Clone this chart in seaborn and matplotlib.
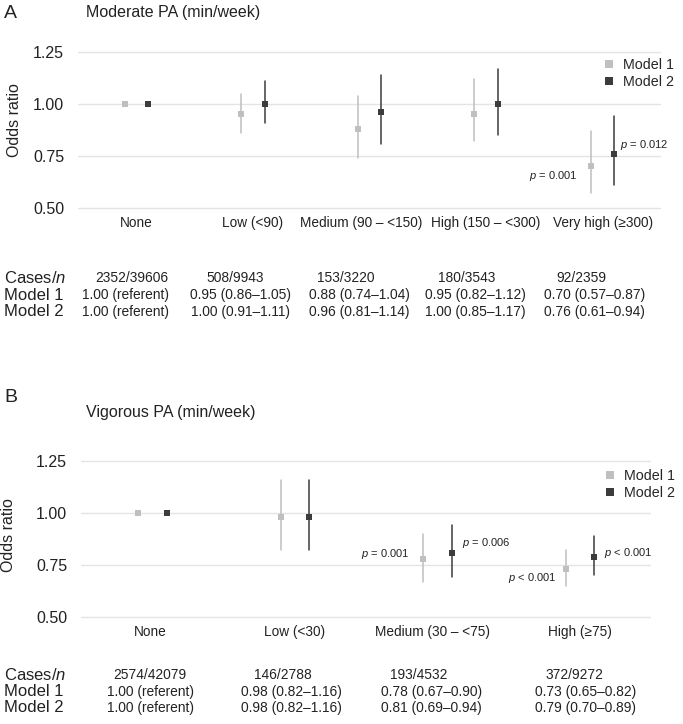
import matplotlib
matplotlib.use("Agg")
import matplotlib.pyplot as plt
import matplotlib.transforms as mtransforms
from matplotlib.lines import Line2D
import numpy as np
import pandas as pd
import seaborn as sns

sns.set_theme(style="white")
plt.rcParams["font.family"] = ["Liberation Sans", "DejaVu Sans"]
plt.rcParams["mathtext.fontset"] = "custom"
plt.rcParams["mathtext.rm"] = "Liberation Sans"
plt.rcParams["mathtext.it"] = "Liberation Sans:italic"

# ── Dados ───────────────────────────────────────────────────
MODELS = ["Model 1", "Model 2"]
COLORS = {"Model 1": "#bfbfbf", "Model 2": "#3c3c3c"}

# Painel A - atividade moderada
cat_a = ["None", "Low (<90)", "Medium (90 – <150)", "High (150 – <300)", "Very high (≥300)"]
cases_a = ["2352/39606", "508/9943", "153/3220", "180/3543", "92/2359"]
m1_or_a = [1.00, 0.95, 0.88, 0.95, 0.70]
m1_lo_a = [1.00, 0.86, 0.74, 0.82, 0.57]
m1_hi_a = [1.00, 1.05, 1.04, 1.12, 0.87]
m2_or_a = [1.00, 1.00, 0.96, 1.00, 0.76]
m2_lo_a = [1.00, 0.91, 0.81, 0.85, 0.61]
m2_hi_a = [1.00, 1.11, 1.14, 1.17, 0.94]
pvals_a = [(4, "Model 1", "$p$ = 0.001"), (4, "Model 2", "$p$ = 0.012")]

# Painel B - atividade vigorosa
cat_b = ["None", "Low (<30)", "Medium (30 – <75)", "High (≥75)"]
cases_b = ["2574/42079", "146/2788", "193/4532", "372/9272"]
m1_or_b = [1.00, 0.98, 0.78, 0.73]
m1_lo_b = [1.00, 0.82, 0.67, 0.65]
m1_hi_b = [1.00, 1.16, 0.90, 0.82]
m2_or_b = [1.00, 0.98, 0.81, 0.79]
m2_lo_b = [1.00, 0.82, 0.69, 0.70]
m2_hi_b = [1.00, 1.16, 0.94, 0.89]
pvals_b = [(2, "Model 1", "$p$ = 0.001"), (2, "Model 2", "$p$ = 0.006"),
           (3, "Model 1", "$p$ < 0.001"), (3, "Model 2", "$p$ < 0.001")]

# offsets (pixels) dos rótulos de p em relação ao ponto
P_OFFS_A = [(-13, -10), (6, 9)]
P_OFFS_B = [(-13, 5), (11, 10), (-9, -9), (10, 4)]

# deslocamento horizontal das colunas da tabela (em unidades de categoria)
CASE_DX_A = [-0.04, -0.15, -0.20, -0.17, -0.18]
MOD_DX_A = [-0.09, -0.11, -0.09, -0.09, -0.07]
CASE_DX_B = [-0.02, -0.08, -0.13, -0.04]
MOD_DX_B = [-0.01, -0.02, -0.04, 0.04]
# deslocamento (px) dos rótulos do eixo x
XLAB_DX_A = [0, 0, -8, 0, 0]
XLAB_DX_B = [-2, 0, -5, 0]


def fmt_ci(o, lo, hi, first):
    if first:
        return "1.00 (referent)"
    return f"{o:.2f} ({lo:.2f}–{hi:.2f})"


def long_df(cats, m1, m2):
    # 3 linhas por ponto: lo, OR, hi -> mediana = OR, min/max = IC
    rows = []
    for model, (o, lo, hi) in zip(MODELS, [m1, m2]):
        for c, a, b, d in zip(cats, o, lo, hi):
            for v in (a, b, d):
                rows.append({"cat": c, "model": model, "OR": v})
    return pd.DataFrame(rows)


fig = plt.figure(figsize=(6.83, 7.24), dpi=100)
W, H = 683, 724


def panel(box, cats, cases, m1, m2, pvals, poffs, letter, title, letter_y, title_y,
          table_y, leg_xy, ylab_xy, case_dx, mod_dx, xlab_dx):
    ax = fig.add_axes(box)
    df = long_df(cats, m1, m2)
    sns.pointplot(data=df, x="cat", y="OR", hue="model", order=cats, hue_order=MODELS,
                  palette=COLORS, estimator="median",
                  errorbar=lambda v: (v.min(), v.max()),
                  dodge=0.2, markers="s", linestyle="none", markersize=5,
                  markeredgewidth=0, err_kws={"linewidth": 1.1}, legend=False, ax=ax)
    ax.set_xlim(-0.5, len(cats) - 0.5)
    ax.set_ylim(0.49, 1.26)
    ax.set_yticks([0.50, 0.75, 1.00, 1.25])
    ax.set_yticklabels(["0.50", "0.75", "1.00", "1.25"])
    ax.yaxis.grid(True, color="#e4e4e4", linewidth=1)
    ax.set_axisbelow(True)
    for s in ax.spines.values():
        s.set_visible(False)
    ax.tick_params(axis="x", length=0, pad=4.5, labelsize=9.8, colors="#222222")
    ax.tick_params(axis="y", length=0, pad=10, labelsize=11.5, colors="#222222")
    for lbl, dx in zip(ax.get_xticklabels(), xlab_dx):
        lbl.set_transform(lbl.get_transform() +
                          mtransforms.ScaledTranslation(dx / 100, 0, fig.dpi_scale_trans))
    ax.set_xlabel("")
    ax.set_ylabel("Odds ratio", fontsize=11.5, color="#222222")
    ax.yaxis.set_label_coords(*ylab_xy)

    # rótulos de p
    for (ci, model, lab), (dx, dy) in zip(pvals, poffs):
        o = (m1 if model == "Model 1" else m2)[0][ci]
        xo = ci + (-0.1 if model == "Model 1" else 0.1)
        ax.annotate(lab, (xo, o), xytext=(dx * 0.72, dy * 0.72), textcoords="offset points",
                    ha="right" if dx < 0 else "left", va="center", fontsize=8, color="#222222")

    # letra e título
    fig.text(4 / W, 1 - letter_y / H, letter, fontsize=14, va="center", ha="left", color="#222222")
    fig.text(86 / W, 1 - title_y / H, title, fontsize=11.5, va="center", ha="left", color="#222222")

    # legenda
    handles = [Line2D([], [], marker="s", linestyle="none", color=COLORS[m],
                      markersize=6, markeredgewidth=0) for m in MODELS]
    fig.legend(handles, MODELS, loc="center left", bbox_to_anchor=leg_xy,
               bbox_transform=fig.transFigure, frameon=False, fontsize=10.3,
               handlelength=1.0, handletextpad=0.45, labelspacing=0.25,
               borderpad=0, borderaxespad=0)

    # tabela
    tr = mtransforms.blended_transform_factory(ax.transData, fig.transFigure)
    rows_lab = ["Cases/$n$", "Model 1", "Model 2"]
    for lab, yy in zip(rows_lab, table_y):
        fig.text(4 / W, 1 - yy / H, lab, fontsize=12, va="center", ha="left", color="#222222")
    for i in range(len(cats)):
        ax.text(i + case_dx[i], 1 - table_y[0] / H, cases[i], transform=tr, fontsize=9.9,
                ha="center", va="center", color="#222222")
        ax.text(i + mod_dx[i], 1 - table_y[1] / H, fmt_ci(m1[0][i], m1[1][i], m1[2][i], i == 0),
                transform=tr, fontsize=9.9, ha="center", va="center", color="#222222")
        ax.text(i + mod_dx[i], 1 - table_y[2] / H, fmt_ci(m2[0][i], m2[1][i], m2[2][i], i == 0),
                transform=tr, fontsize=9.9, ha="center", va="center", color="#222222")
    return ax


panel([78 / W, 1 - 210.1 / H, 583 / W, 160.2 / H], cat_a, cases_a,
      (m1_or_a, m1_lo_a, m1_hi_a), (m2_or_a, m2_lo_a, m2_hi_a), pvals_a, P_OFFS_A,
      "A", "Moderate PA (min/week)", 13, 13, [278, 295, 312],
      (602 / W, 1 - 73.5 / H), (-0.096, 0.56), CASE_DX_A, MOD_DX_A, XLAB_DX_A)

panel([81 / W, 1 - 619.1 / H, 570 / W, 160.2 / H], cat_b, cases_b,
      (m1_or_b, m1_lo_b, m1_hi_b), (m2_or_b, m2_lo_b, m2_hi_b), pvals_b, P_OFFS_B,
      "B", "Vigorous PA (min/week)", 398, 413, [675, 692, 708],
      (603 / W, 1 - 484.5 / H), (-0.114, 0.525), CASE_DX_B, MOD_DX_B, XLAB_DX_B)

plt.savefig("out.png", dpi=100)
plt.close()
